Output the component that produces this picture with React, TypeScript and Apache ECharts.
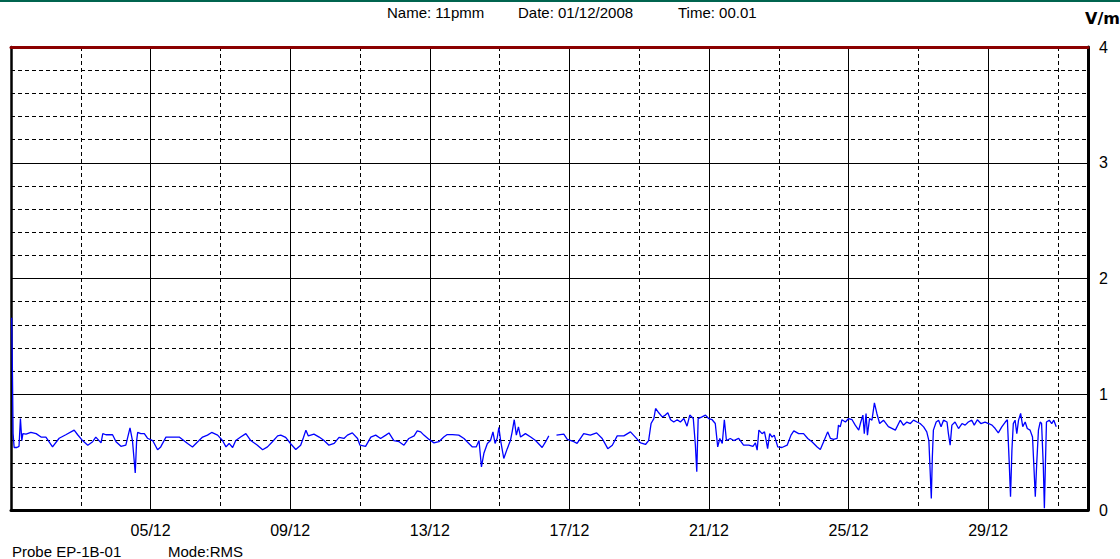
import React, { useEffect, useRef } from "react";
import * as echarts from "echarts";

// Time since 01/12/2008 00:01, in days
const dayOffsets: number[] = [
  0.02, 0.04, 0.06, 0.09, 0.17, 0.23, 0.27, 0.31, 0.34, 0.43, 0.57, 0.72, 0.86, 1.0, 1.19, 1.38, 1.57, 1.81, 1.91,
  2.05, 2.2, 2.34, 2.43, 2.58, 2.63, 2.72, 2.91, 3.01, 3.15, 3.29, 3.41, 3.48, 3.56, 3.6, 3.63, 3.72, 3.82, 3.91,
  4.06, 4.2, 4.29, 4.44, 4.63, 4.82,
  5.06, 5.2, 5.35, 5.49, 5.63, 5.75, 5.92, 6.06, 6.16, 6.25, 6.35, 6.44, 6.58, 6.73, 6.87, 7.06, 7.21, 7.35, 7.49,
  7.64, 7.73, 7.87, 8.02, 8.16, 8.3, 8.38, 8.45, 8.52, 8.68, 8.83, 8.97, 9.11, 9.26, 9.4, 9.54, 9.64, 9.78, 9.93,
  10.0, 10.16, 10.31, 10.45, 10.59, 10.74, 10.83, 10.97, 11.12, 11.26, 11.4, 11.55, 11.64, 11.74, 11.83, 11.98,
  12.12, 12.26, 12.4, 12.5, 12.65, 12.83, 12.98, 13.07, 13.22, 13.33, 13.41, 13.48, 13.55, 13.65, 13.74, 13.81,
  13.87, 13.93, 13.98, 14.03, 14.12, 14.22, 14.31, 14.36, 14.42, 14.48, 14.54, 14.6, 14.74, 14.89, 15.03,
  15.22, 15.32, 15.41, 15.5, 15.63, 15.84, 15.94, 16.13, 16.22, 16.41, 16.6, 16.78, 16.94, 17.1, 17.23, 17.37,
  17.56, 17.75, 17.89, 18.04, 18.18, 18.27, 18.34, 18.42, 18.47, 18.56, 18.66, 18.75, 18.82, 18.9, 18.99, 19.09,
  19.18, 19.28, 19.37, 19.45, 19.55, 19.61, 19.65, 19.69, 19.8, 19.9, 19.99,
  20.09, 20.18, 20.25, 20.31, 20.38, 20.44, 20.5, 20.61, 20.71, 20.85, 20.99, 21.14, 21.26, 21.33, 21.38, 21.43,
  21.52, 21.59, 21.64, 21.68, 21.74, 21.81, 21.87, 21.97, 22.09, 22.24, 22.35, 22.43, 22.57, 22.71, 22.83, 22.95,
  23.1, 23.19, 23.3, 23.4, 23.48, 23.57, 23.67, 23.71, 23.76, 23.81, 23.91, 24.0, 24.1, 24.19, 24.29, 24.35,
  24.41, 24.45, 24.5, 24.54, 24.6, 24.67, 24.74, 24.81, 24.89, 25.0, 25.14, 25.34, 25.48,
  25.57, 25.67, 25.77, 25.86, 25.96, 26.05, 26.15, 26.24, 26.3, 26.34, 26.37, 26.4, 26.43, 26.51, 26.58, 26.65,
  26.72, 26.82, 26.86, 26.91, 26.96, 27.05, 27.15, 27.25, 27.34, 27.43, 27.53, 27.6, 27.69, 27.79, 27.91, 28.01,
  28.11, 28.2, 28.29, 28.39, 28.49, 28.55, 28.6, 28.64, 28.68, 28.72, 28.77, 28.82, 28.87, 28.93, 28.99, 29.06,
  29.12, 29.2, 29.27, 29.31, 29.35, 29.39, 29.44, 29.49, 29.53, 29.58, 29.61, 29.64, 29.67, 29.75, 29.82, 29.88,
  29.95,
];

// Field strength, V/m (null = missing sample)
const fieldValues: (number | null)[] = [
  1.66, 1.22, 0.66, 0.54, 0.54, 0.55, 0.79, 0.6, 0.66, 0.655, 0.67, 0.66, 0.63, 0.63, 0.545, 0.62, 0.65, 0.69, 0.65,
  0.6, 0.56, 0.59, 0.63, 0.58, 0.66, 0.65, 0.65, 0.59, 0.55, 0.56, 0.71, 0.6, 0.32, 0.6, 0.67, 0.66, 0.66, 0.62,
  0.6, 0.52, 0.545, 0.63, 0.63, 0.63,
  0.575, 0.545, 0.59, 0.63, 0.647, 0.67, 0.647, 0.6, 0.545, 0.575, 0.54, 0.6, 0.63, 0.66, 0.6, 0.56, 0.52, 0.545, 0.59,
  0.64, 0.647, 0.627, 0.57, 0.523, 0.56, 0.627, 0.69, 0.64, 0.655, 0.63, 0.6, 0.56, 0.575, 0.627, 0.618, 0.647, 0.666, 0.618,
  0.56, 0.55, 0.63, 0.647, 0.618, 0.647, 0.666, 0.6, 0.59, 0.56, 0.618, 0.64, 0.684, 0.675, 0.647, 0.61,
  0.58, 0.59, 0.63, 0.652, 0.652, 0.647, 0.618, 0.59, 0.545, 0.545, 0.6, 0.373, 0.49, 0.575, 0.6, 0.675,
  0.575, 0.62, 0.713, 0.6, 0.445, 0.53, 0.6, 0.675, 0.78, 0.647, 0.718, 0.63, 0.66, 0.63, 0.6,
  0.54, 0.59, 0.64, null, 0.647, 0.655, 0.61, 0.59, 0.575, 0.66, 0.647, 0.666, 0.618, 0.53, 0.56, 0.64,
  0.64, 0.675, 0.63, 0.58, 0.566, 0.6, 0.747, 0.79, 0.877, 0.84, 0.804, 0.82, 0.84, 0.78, 0.76, 0.78,
  0.76, 0.79, 0.724, 0.82, 0.79, 0.56, 0.33, 0.79, 0.804, 0.82, 0.79,
  0.78, 0.747, 0.545, 0.618, 0.575, 0.78, 0.6, 0.618, 0.6, 0.618, 0.56, 0.56, 0.55, 0.58, 0.517, 0.69,
  0.66, 0.675, 0.6, 0.53, 0.66, 0.63, 0.647, 0.545, 0.54, 0.56, 0.647, 0.684, 0.66, 0.66, 0.618, 0.59,
  0.545, 0.523, 0.6, 0.675, 0.618, 0.61, 0.618, 0.733, 0.718, 0.78, 0.76, 0.79, 0.78, 0.733, 0.69, 0.76,
  0.82, 0.66, 0.834, 0.647, 0.79, 0.776, 0.925, 0.834, 0.747, 0.776, 0.72, 0.69, 0.776,
  0.733, 0.76, 0.747, 0.776, 0.76, 0.747, 0.718, 0.675, 0.6, 0.316, 0.1, 0.46, 0.69, 0.76, 0.776, 0.72,
  0.776, 0.76, 0.66, 0.56, 0.733, 0.76, 0.704, 0.747, 0.733, 0.76, 0.776, 0.733, 0.78, 0.747, 0.76, 0.747,
  0.733, 0.704, 0.666, 0.718, 0.76, 0.78, 0.43, 0.115, 0.517, 0.747, 0.776, 0.66, 0.776, 0.834, 0.72, 0.76,
  0.704, 0.69, 0.63, 0.373, 0.115, 0.4, 0.69, 0.76, 0.747, 0.373, 0.015, 0.4, 0.76, 0.776, 0.747, 0.776,
  0.72,
];

const xMaxDays = 30.86;
const yMax = 4;
const headerTexts = ["Name: 11pmm", "Date: 01/12/2008", "Time: 00.01"];
const footerTexts = ["Probe EP-1B-01", "Mode:RMS"];
const unitLabel = "V/m";
const monthLabel = "12";

const FONT = '"Liberation Sans", Arial, sans-serif';

export default function App() {
  const ref = useRef<HTMLDivElement>(null);

  useEffect(() => {
    if (!ref.current) return;
    const chart = echarts.init(ref.current, undefined, { renderer: "svg" });
    const seriesData = dayOffsets.map((d, i) => [d, fieldValues[i]]);

    const option: any = {
      animation: false,
      backgroundColor: "#ffffff",
      grid: { left: 11, right: 32, top: 47, bottom: 49, containLabel: false },
      xAxis: [
        {
          type: "value",
          position: "bottom",
          min: 0,
          max: xMaxDays,
          interval: 4,
          axisLine: { show: true, onZero: false, lineStyle: { color: "#000", width: 3 } },
          axisTick: { show: false },
          axisLabel: {
            show: true,
            margin: 12,
            color: "#000",
            fontSize: 16,
            fontFamily: FONT,
            formatter: (v: number) => {
              if (v <= 0 || Math.abs(v % 4) > 1e-6) return "";
              const day = Math.round(v) + 1;
              return (day < 10 ? "0" + day : String(day)) + "/" + monthLabel;
            },
          },
          splitLine: { show: true, lineStyle: { color: "#000", width: 1, type: "solid" } },
        },
        {
          type: "value",
          position: "top",
          min: 0,
          max: xMaxDays,
          interval: 2,
          axisLine: { show: true, onZero: false, lineStyle: { color: "#8b0000", width: 3 } },
          axisTick: { show: false },
          axisLabel: { show: false },
          splitLine: { show: true, lineStyle: { color: "#000", width: 1, type: [4, 3] } },
        },
      ],
      yAxis: [
        {
          type: "value",
          position: "right",
          min: 0,
          max: yMax,
          interval: 1,
          axisLine: { show: true, onZero: false, lineStyle: { color: "#000", width: 3 } },
          axisTick: { show: false },
          axisLabel: { show: true, margin: 11, color: "#000", fontSize: 16, fontFamily: FONT },
          splitLine: { show: true, lineStyle: { color: "#000", width: 1 } },
          minorTick: { show: false, splitNumber: 5 },
          minorSplitLine: { show: true, lineStyle: { color: "#000", width: 1, type: [4, 3] } },
        },
        {
          type: "value",
          position: "left",
          min: 0,
          max: yMax,
          interval: 1,
          axisLine: { show: true, onZero: false, lineStyle: { color: "#000", width: 2.5 } },
          axisTick: { show: false },
          axisLabel: { show: false },
          splitLine: { show: false },
        },
      ],
      series: [
        {
          type: "line",
          xAxisIndex: 0,
          yAxisIndex: 0,
          data: seriesData,
          showSymbol: false,
          connectNulls: false,
          lineStyle: { color: "#0000ff", width: 1.3 },
          z: 5,
        },
      ],
      graphic: [
        { type: "rect", shape: { x: 0, y: 0, width: 1120, height: 2 }, style: { fill: "#00644f" } },
        {
          type: "text",
          x: 387,
          y: 12,
          style: { text: headerTexts[0], fill: "#000", font: `15px ${FONT}`, verticalAlign: "middle" },
        },
        {
          type: "text",
          x: 518,
          y: 12,
          style: { text: headerTexts[1], fill: "#000", font: `15px ${FONT}`, verticalAlign: "middle" },
        },
        {
          type: "text",
          x: 678,
          y: 12,
          style: { text: headerTexts[2], fill: "#000", font: `15px ${FONT}`, verticalAlign: "middle" },
        },
        {
          type: "text",
          x: 1085,
          y: 18,
          style: { text: unitLabel, fill: "#000", font: `bold 16px "DejaVu Sans", sans-serif`, verticalAlign: "middle" },
        },
        {
          type: "text",
          x: 12,
          y: 551,
          style: { text: footerTexts[0], fill: "#000", font: `15px ${FONT}`, verticalAlign: "middle" },
        },
        {
          type: "text",
          x: 168,
          y: 551,
          style: { text: footerTexts[1], fill: "#000", font: `15px ${FONT}`, verticalAlign: "middle" },
        },
      ],
    };
    chart.setOption(option);
    return () => chart.dispose();
  }, []);

  return (
    <div
      ref={ref}
      style={{ position: "fixed", left: 0, top: 0, width: 1120, height: 559, background: "#fff" }}
    />
  );
}
